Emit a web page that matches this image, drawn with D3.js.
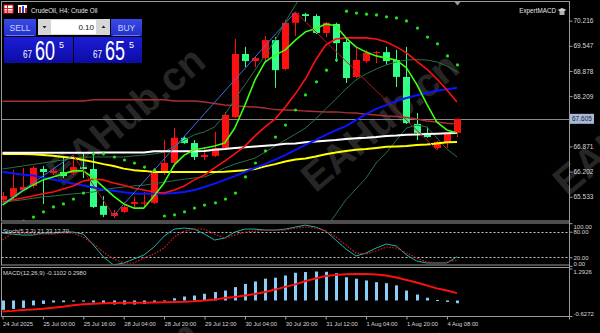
<!DOCTYPE html>
<html lang="en">
<head>
<meta charset="utf-8">
<title>CrudeOil, H4</title>
<script src="https://d3js.org/d3.v7.min.js"></script>
<style>
  body { margin: 0; background: #000; }
  svg { display: block; font-family: "Liberation Sans", Arial, sans-serif; }
  .axis path { display: none; }
  .axis line { stroke: #a0a0a0; }
  .axis text { fill: #d8d8d8; }
</style>
</head>
<body>
<script>

// ---- data (H4 bars, 24 Jul - 4 Aug 2025) ----
const opens  = [65.45,65.53,65.71,65.82,66.27,66.16,66.19,66.16,66.32,66.27,65.29,65.02,65.13,65.34,65.35,65.37,66.19,66.43,67.10,66.96,66.59,66.62,66.83,67.65,69.33,69.14,69.22,69.70,68.93,70.16,70.39,70.34,69.89,70.13,69.65,68.72,69.14,69.36,69.38,69.17,68.72,67.47,67.23,66.83,66.96,67.23];
const highs  = [65.66,66.24,66.30,66.35,66.35,66.27,66.59,66.62,66.70,66.70,65.55,65.18,65.39,65.53,65.66,66.30,67.04,67.36,67.15,67.04,66.83,67.26,67.79,69.73,69.52,69.25,69.81,69.78,70.24,70.45,70.42,70.39,70.18,70.16,69.76,69.49,69.44,69.41,69.52,69.44,69.52,67.76,67.39,67.02,67.23,67.605];
const lows   = [65.39,65.47,65.69,65.76,65.34,66.11,66.03,66.11,66.03,65.23,64.99,64.97,65.10,65.23,65.26,65.34,66.11,66.32,66.94,66.51,66.51,66.59,66.80,67.63,68.98,68.98,69.09,68.43,68.90,69.81,70.18,69.86,69.78,69.12,68.56,68.69,69.09,69.09,69.04,68.45,67.47,67.04,67.10,66.78,66.83,67.12];
const closes = [65.55,65.76,65.79,66.30,66.19,66.22,66.08,66.32,66.27,65.26,65.05,65.10,65.26,65.39,65.38,66.19,66.43,67.10,66.96,66.59,66.64,66.83,67.71,69.33,69.14,69.22,69.70,68.90,70.16,70.42,70.34,69.89,70.16,69.62,68.69,69.17,69.36,69.38,69.14,68.72,67.49,67.23,67.12,66.99,67.20,67.605];

// moving averages
const maSlow   = [68.07,68.07,68.07,68.07,68.07,68.08,68.08,68.08,68.08,68.11,68.11,68.11,68.11,68.11,68.11,68.11,68.11,68.08,68.08,68.08,68.05,68.01,67.97,67.95,67.93,67.92,67.89,67.85,67.84,67.83,67.81,67.80,67.79,67.79,67.77,67.76,67.73,67.71,67.68,67.67,67.64,67.60,67.55,67.52,67.49,67.47];
const maWhite  = [66.70,66.70,66.70,66.70,66.70,66.70,66.70,66.70,66.70,66.70,66.71,66.71,66.71,66.71,66.71,66.74,66.74,66.74,66.74,66.74,66.75,66.78,66.80,66.83,66.85,66.87,66.89,66.91,66.94,66.95,66.98,67.00,67.02,67.04,67.07,67.09,67.10,67.12,67.15,67.16,67.18,67.19,67.20,67.21,67.22,67.23];
const maYellow = [66.67,66.67,66.67,66.66,66.64,66.62,66.59,66.56,66.51,66.46,66.40,66.35,66.28,66.24,66.22,66.19,66.19,66.19,66.19,66.19,66.19,66.19,66.20,66.22,66.24,66.27,66.34,66.40,66.47,66.52,66.55,66.60,66.66,66.71,66.75,66.78,66.80,66.83,66.86,66.87,66.88,66.91,66.92,66.95,66.98,66.99];
const maBlue   = [66.19,66.16,66.12,66.10,66.04,65.99,65.94,65.88,65.83,65.78,65.72,65.69,65.65,65.62,65.61,65.61,65.61,65.63,65.66,65.71,65.79,65.88,65.98,66.08,66.19,66.30,66.40,66.52,66.64,66.78,66.91,67.04,67.18,67.30,67.41,67.57,67.73,67.87,67.97,68.08,68.16,68.23,68.29,68.35,68.39,68.43];
const maRed    = [65.39,65.45,65.50,65.55,65.61,65.66,65.74,65.82,65.95,66.00,65.98,65.90,65.84,65.76,65.71,65.66,65.63,65.71,65.82,65.98,66.11,66.30,66.48,66.67,66.88,67.15,67.39,67.60,67.92,68.27,68.67,69.17,69.57,69.73,69.76,69.76,69.76,69.73,69.65,69.52,69.36,69.14,68.93,68.67,68.37,68.05];
const maFast   = [65.31,65.50,65.69,65.84,65.98,66.06,66.14,66.22,66.22,66.03,65.79,65.55,65.34,65.23,65.23,65.55,65.90,66.38,66.64,66.78,66.83,66.88,66.96,67.36,67.97,68.64,69.12,69.30,69.44,69.70,69.92,70.00,70.13,70.08,69.76,69.52,69.38,69.28,69.22,69.17,68.96,68.53,68.00,67.52,67.31,67.23];

// bollinger bands (null where the band is off the chart)
const bbUpper = [66.27,66.31,66.35,66.39,66.43,66.47,66.51,66.56,66.58,66.59,66.59,66.59,66.59,66.62,66.64,66.67,66.72,66.88,67.04,67.18,67.26,67.39,67.71,68.13,68.51,68.90,69.30,69.70,70.18,70.63,71.03,null,null,null,null,null,null,null,null,null,null,null,null,null,null,null];
const bbMid   = [65.39,65.42,65.45,65.49,65.53,65.55,65.58,65.61,65.63,65.66,65.71,65.76,65.79,65.82,65.84,65.88,65.92,65.96,66.00,66.03,66.06,66.16,66.30,66.40,66.48,66.56,66.72,66.88,67.04,67.20,67.36,67.60,67.87,68.13,68.40,68.64,68.80,68.93,69.04,69.12,69.17,69.18,69.17,69.12,69.01,68.85];
const bbLower = [null,null,null,null,null,null,null,null,null,null,null,null,null,null,null,null,null,null,null,null,null,null,null,null,null,null,null,null,null,null,null,null,64.70,65.07,65.45,65.74,66.03,66.43,66.70,67.04,67.36,67.44,67.39,67.10,66.80,66.59];

// parabolic sar
const sar = [null,null,64.88,64.99,65.13,65.26,65.34,65.47,65.63,66.67,66.67,66.59,66.51,66.43,66.32,66.24,65.02,65.05,65.13,65.23,65.31,65.37,65.47,65.63,66.06,66.43,66.75,67.12,67.44,67.84,68.24,68.59,68.90,69.17,70.47,70.42,70.39,70.37,70.32,70.29,70.21,70.02,69.78,69.60,69.28,69.04];

// zigzag turning points [bar, price]
const zigzag = [[0, 65.34], [7, 66.64], [11, 65.03], [29, 70.45], [43, 66.78]];

// stochastic (5,3,3)
const stochK = [76.9,74.5,72.2,72.2,76.9,76.9,79.2,79.2,74.5,48.7,20.6,1.9,6.6,15.9,25.3,44.1,69.8,86.2,88.6,86.2,74.5,60.5,65.1,79.2,86.2,86.2,83.9,83.9,86.2,90.9,95.6,90.9,81.5,60.5,39.4,23.0,30.0,41.7,51.1,46.4,25.3,11.2,6.6,6.6,6.6,21.33];
const stochD = [60.5,76.9,76.9,74.5,74.5,74.5,76.9,76.9,67.5,51.1,32.3,15.9,6.6,6.6,18.3,27.7,41.7,67.5,81.5,86.2,86.2,74.5,65.1,72.2,79.2,81.5,83.9,83.9,83.9,88.6,90.9,88.6,81.5,67.5,48.7,30.0,27.7,34.7,44.1,41.7,30.0,18.3,8.9,6.6,8.9,12.70];

// macd (12,26,9)
const macdMain   = [-0.38,-0.34,-0.30,-0.20,-0.14,-0.08,-0.07,-0.04,-0.04,-0.08,-0.14,-0.16,-0.16,-0.16,-0.14,-0.08,-0.04,0.09,0.16,0.20,0.27,0.34,0.40,0.54,0.67,0.77,0.88,0.92,1.01,1.12,1.15,1.17,1.16,1.10,0.94,0.88,0.81,0.74,0.70,0.61,0.40,0.24,0.11,0.02,-0.06,-0.1102];
const macdSignal = [-0.45,-0.42,-0.38,-0.36,-0.33,-0.29,-0.25,-0.19,-0.15,-0.13,-0.11,-0.10,-0.09,-0.09,-0.09,-0.08,-0.07,-0.06,-0.05,-0.03,0.00,0.04,0.10,0.14,0.20,0.26,0.34,0.44,0.55,0.65,0.79,0.89,0.99,1.03,1.06,1.07,1.07,1.05,1.01,0.93,0.83,0.73,0.61,0.49,0.40,0.298];

// axis ticks
const priceTicks = [70.216, 69.547, 68.878, 68.209, 66.871, 66.202, 65.533];
const stochTicks = [100, 80, 20, 0];
const stochLevels = [80, 20];
const macdTicks = [1.2926, -0.6272];
const timeTickBars = [0, 4, 8, 12, 16, 20, 24, 28, 32, 36, 40, 44];
const timeTickLabels = ["24 Jul 2025", "25 Jul 00:00", "25 Jul 16:00", "28 Jul 04:00", "28 Jul 20:00", "29 Jul 12:00", "30 Jul 04:00", "30 Jul 20:00", "31 Jul 12:00", "1 Aug 04:00", "1 Aug 20:00", "4 Aug 08:00"];

// ---- layout ----
const w = 600, h = 333;
const left = 1.5, axisX = 569.5;
const mainP  = { top: 1.5, bottom: 221 };
const stochP = { top: 223, bottom: 265 };
const macdP  = { top: 267.5, bottom: 316.5 };
const font = '"Liberation Sans", Arial, sans-serif';

const svg = d3.select("body").append("svg")
  .attr("width", w)
  .attr("height", h);

svg.append("rect").attr("width", w).attr("height", h).attr("fill", "#000");

// watermark
const wm = [[128, 118], [382, 124], [634, 128], [122, 392], [376, 398]];
svg.append("g").selectAll("text")
  .data(wm)
  .join("text")
  .attr("transform", d => `translate(${d[0]},${d[1]}) rotate(-40)`)
  .attr("text-anchor", "middle")
  .attr("dominant-baseline", "middle")
  .attr("font-size", 40)
  .attr("font-weight", "bold")
  .attr("fill", "#262626")
  .text("EAHub.cn");

const idx = d3.range(closes.length);

const x = d3.scaleLinear().domain([0, 45]).range([2.5, 457]);
const yPrice = d3.scaleLinear().domain([65.533, 70.216]).range([196.7, 20.7]);
const yStoch = d3.scaleLinear().domain([0, 100]).range([265.8, 223.2]);
const yMacd  = d3.scaleLinear().domain([-0.6272, 1.2926]).range([macdP.bottom - 0.5, macdP.top + 1]);

const defs = svg.append("defs");
[["clipMain", mainP], ["clipStoch", stochP], ["clipMacd", macdP]].forEach(([id, p]) => {
  defs.append("clipPath").attr("id", id)
    .append("rect")
    .attr("x", left + 0.5).attr("y", p.top + 0.5)
    .attr("width", axisX - left - 1).attr("height", p.bottom - p.top - 1);
});

const main = svg.append("g").attr("clip-path", "url(#clipMain)");
const stoch = svg.append("g").attr("clip-path", "url(#clipStoch)");
const macd = svg.append("g").attr("clip-path", "url(#clipMacd)");

function drawLine(g, values, yScale, color, width, dash) {
  g.append("path")
    .datum(values)
    .attr("fill", "none")
    .attr("stroke", color)
    .attr("stroke-width", width)
    .attr("stroke-dasharray", dash || null)
    .attr("stroke-linejoin", "round")
    .attr("d", d3.line()
      .defined(v => v != null)
      .x((v, i) => x(i))
      .y(v => yScale(v)));
}

// current bid line
const last = closes[closes.length - 1];
main.append("line")
  .attr("x1", left).attr("x2", axisX)
  .attr("y1", Math.round(yPrice(last)) + 0.5)
  .attr("y2", Math.round(yPrice(last)) + 0.5)
  .attr("stroke", "#8a8a8a");

// candles (red = up, green = down)
const upCol = "#ff1010", downCol = "#30ff88";
const candleColor = i => closes[i] >= opens[i] ? upCol : downCol;
const cx = i => Math.round(x(i)) + 0.5;

main.append("g").selectAll("line")
  .data(idx)
  .join("line")
  .attr("x1", cx).attr("x2", cx)
  .attr("y1", i => yPrice(highs[i]))
  .attr("y2", i => yPrice(lows[i]))
  .attr("stroke", candleColor);

main.append("g").selectAll("rect")
  .data(idx)
  .join("rect")
  .attr("x", i => cx(i) - 3.5)
  .attr("width", 7)
  .attr("y", i => yPrice(Math.max(opens[i], closes[i])))
  .attr("height", i => Math.max(1, Math.abs(yPrice(opens[i]) - yPrice(closes[i]))))
  .attr("fill", candleColor);

// indicator lines
drawLine(main, maSlow, yPrice, "#a83030", 1.5);
drawLine(main, bbUpper, yPrice, "#2c7047", 1);
drawLine(main, bbMid, yPrice, "#2c7047", 1);
drawLine(main, bbLower, yPrice, "#2c7047", 1);
drawLine(main, maYellow, yPrice, "#ffff00", 2);
drawLine(main, maWhite, yPrice, "#ffffff", 2);
drawLine(main, maBlue, yPrice, "#0a14ff", 2);
drawLine(main, maRed, yPrice, "#ff1010", 1.6);
drawLine(main, maFast, yPrice, "#3cff14", 1.6);

// zigzag legs
main.append("g").selectAll("line")
  .data(d3.pairs(zigzag))
  .join("line")
  .attr("x1", d => x(d[0][0])).attr("y1", d => yPrice(d[0][1]))
  .attr("x2", d => x(d[1][0])).attr("y2", d => yPrice(d[1][1]))
  .attr("stroke", d => d[1][1] > d[0][1] ? "#3f6fd8" : "#b01818")
  .attr("stroke-width", 1);

// parabolic sar
main.append("g").selectAll("circle")
  .data(idx.filter(i => sar[i] != null))
  .join("circle")
  .attr("cx", cx)
  .attr("cy", i => yPrice(sar[i]))
  .attr("r", 1.6)
  .attr("fill", "#1fe51f");

// ---- stochastic ----
stoch.append("g").selectAll("line")
  .data(stochLevels)
  .join("line")
  .attr("x1", left).attr("x2", axisX)
  .attr("y1", d => Math.round(yStoch(d)) + 0.5)
  .attr("y2", d => Math.round(yStoch(d)) + 0.5)
  .attr("stroke", "#c8c8c8")
  .attr("stroke-dasharray", "2,2");
drawLine(stoch, stochK, yStoch, "#20b2aa", 1);
drawLine(stoch, stochD, yStoch, "#e01818", 1.2, "1.5,1.5");

// ---- macd ----
macd.append("g").selectAll("rect")
  .data(idx)
  .join("rect")
  .attr("x", i => cx(i) - 1.5)
  .attr("width", 3)
  .attr("y", i => Math.min(yMacd(0), yMacd(macdMain[i])))
  .attr("height", i => Math.max(1, Math.abs(yMacd(macdMain[i]) - yMacd(0))))
  .attr("fill", "#87cefa");
drawLine(macd, macdSignal, yMacd, "#ff1010", 2);

// ---- frames ----
const frame = svg.append("g").attr("fill", "none").attr("stroke", "#9a9a9a");
[mainP, stochP, macdP].forEach(p => {
  frame.append("rect")
    .attr("x", left).attr("y", p.top)
    .attr("width", axisX - left).attr("height", p.bottom - p.top);
});
frame.append("line").attr("x1", axisX).attr("x2", axisX).attr("y1", mainP.top).attr("y2", macdP.bottom + 3);

// ---- axes (font set after call, the axis overrides it) ----
function styleAxis(g, size) {
  g.attr("font-size", size).attr("font-family", font);
}

svg.append("g")
  .attr("class", "axis")
  .attr("transform", `translate(${axisX},0)`)
  .call(d3.axisRight(yPrice).tickValues(priceTicks).tickSize(3).tickPadding(1).tickFormat(d => d.toFixed(3)))
  .call(styleAxis, 6.5);

// current price tag
svg.append("rect")
  .attr("x", axisX + 0.5).attr("y", yPrice(last) - 5)
  .attr("width", 24).attr("height", 10)
  .attr("fill", "#a9b9d3");
svg.append("text")
  .attr("x", axisX + 2.5).attr("y", yPrice(last))
  .attr("dy", "0.35em")
  .attr("font-size", 6.5)
  .attr("fill", "#14224a")
  .text(last.toFixed(3));

svg.append("g")
  .attr("class", "axis")
  .attr("transform", `translate(${axisX},0)`)
  .call(d3.axisRight(yStoch).tickValues(stochTicks).tickSize(3).tickPadding(1).tickFormat(d => d.toFixed(2)))
  .call(styleAxis, 6)
  .selectAll("text")
  .attr("dy", d => d === 100 ? "0.8em" : d === 0 ? "-0.1em" : "0.32em");

svg.append("g")
  .attr("class", "axis")
  .attr("transform", `translate(${axisX},0)`)
  .call(d3.axisRight(yMacd).tickValues(macdTicks).tickSize(3).tickPadding(1).tickFormat(d => d.toFixed(4)))
  .call(styleAxis, 6)
  .selectAll("text")
  .attr("dy", d => d > 0 ? "0.75em" : "-0.1em");

svg.append("g")
  .attr("class", "axis")
  .attr("transform", `translate(0,${macdP.bottom})`)
  .call(d3.axisBottom(x).tickValues(timeTickBars).tickSize(3).tickPadding(2)
    .tickFormat((d, i) => timeTickLabels[i]))
  .call(styleAxis, 5.8)
  .selectAll("text")
  .attr("text-anchor", "start")
  .attr("x", 0);

// ---- indicator captions ----
svg.append("text")
  .attr("x", 3).attr("y", 232.5)
  .attr("font-size", 6)
  .attr("fill", "#d8d8d8")
  .text(`Stoch(5,3,3) ${stochK[stochK.length - 1].toFixed(2)} ${stochD[stochD.length - 1].toFixed(2)}`);

svg.append("text")
  .attr("x", 3).attr("y", 274.5)
  .attr("font-size", 6)
  .attr("fill", "#d8d8d8")
  .text(`MACD(12,26,9) ${macdMain[macdMain.length - 1].toFixed(4)} ${macdSignal[macdSignal.length - 1].toFixed(4)}`);

// ---- header ----
const head = svg.append("g");
head.append("rect").attr("x", 4).attr("y", 5).attr("width", 9).attr("height", 8).attr("fill", "#fff").attr("stroke", "#e02020");
head.append("path").attr("d", "M4,8.5H13M4,11H13M7.5,5V13").attr("stroke", "#e02020").attr("stroke-width", 1);
head.append("rect").attr("x", 18).attr("y", 5).attr("width", 9).attr("height", 8).attr("fill", "#fff");
head.append("rect").attr("x", 19).attr("y", 7).attr("width", 2).attr("height", 6).attr("fill", "#d02020");
head.append("rect").attr("x", 22).attr("y", 6).attr("width", 2).attr("height", 7).attr("fill", "#2040c0");
head.append("rect").attr("x", 25).attr("y", 8).attr("width", 2).attr("height", 5).attr("fill", "#d02020");
head.append("text").attr("x", 31).attr("y", 12.5).attr("font-size", 6.3).attr("fill", "#e6e6e6")
  .text("CrudeOil, H4:  Crude Oil");

head.append("text").attr("x", 556).attr("y", 12.5).attr("font-size", 6.3).attr("fill", "#e6e6e6")
  .attr("text-anchor", "end").text("ExpertMACD");
head.append("path").attr("d", "M557.5,10L562,8L566.5,10L562,12Z").attr("fill", "#d0d0d0");
head.append("rect").attr("x", 559.5).attr("y", 11).attr("width", 5).attr("height", 4).attr("fill", "#b0b0b0");

// shift marker
svg.append("path").attr("d", "M454.5,2L460.5,2L457.5,5.5Z").attr("fill", "#9a9a9a");

// one-click trading panel
const grad = defs.append("linearGradient").attr("id", "btn").attr("x1", 0).attr("x2", 0).attr("y1", 0).attr("y2", 1);
grad.append("stop").attr("offset", 0).attr("stop-color", "#3a4ae6");
grad.append("stop").attr("offset", 1).attr("stop-color", "#2230c8");
const grad2 = defs.append("linearGradient").attr("id", "big").attr("x1", 0).attr("x2", 0).attr("y1", 0).attr("y2", 1);
grad2.append("stop").attr("offset", 0).attr("stop-color", "#1c1cd6");
grad2.append("stop").attr("offset", 1).attr("stop-color", "#0c0ca4");

head.append("rect").attr("x", 4).attr("y", 19).attr("width", 32).attr("height", 17).attr("fill", "url(#btn)");
head.append("rect").attr("x", 111).attr("y", 19).attr("width", 31).attr("height", 17).attr("fill", "url(#btn)");
head.append("line").attr("x1", 6).attr("x2", 34).attr("y1", 35.5).attr("y2", 35.5).attr("stroke", "#6a78f0");
head.append("line").attr("x1", 113).attr("x2", 140).attr("y1", 35.5).attr("y2", 35.5).attr("stroke", "#6a78f0");
head.append("text").attr("x", 20).attr("y", 31).attr("text-anchor", "middle").attr("font-size", 8.5).attr("fill", "#c8d2ff").text("SELL");
head.append("text").attr("x", 126.5).attr("y", 31).attr("text-anchor", "middle").attr("font-size", 8.5).attr("fill", "#c8d2ff").text("BUY");

head.append("rect").attr("x", 38).attr("y", 19).attr("width", 72).attr("height", 16).attr("fill", "#d6d6d6");
head.append("rect").attr("x", 51).attr("y", 20).attr("width", 45).attr("height", 14).attr("fill", "#ffffff");
head.append("path").attr("d", "M42.5,26L46.5,26L44.5,28.5Z").attr("fill", "#202020");
head.append("path").attr("d", "M101.5,28L105.5,28L103.5,25.5Z").attr("fill", "#202020");
head.append("text").attr("x", 94).attr("y", 30).attr("text-anchor", "end").attr("font-size", 8).attr("fill", "#101010").text("0.10");

head.append("rect").attr("x", 4).attr("y", 37).attr("width", 69).attr("height", 26).attr("fill", "url(#big)");
head.append("rect").attr("x", 74).attr("y", 37).attr("width", 68).attr("height", 26).attr("fill", "url(#big)");
[[23, "67", "60", "5"], [93, "67", "65", "5"]].forEach(([bx, a, b, c]) => {
  head.append("text").attr("x", bx).attr("y", 58).attr("font-size", 10).attr("fill", "#fff")
    .attr("textLength", 9).attr("lengthAdjust", "spacingAndGlyphs").text(a);
  head.append("text").attr("x", bx + 12).attr("y", 60).attr("font-size", 27).attr("fill", "#fff")
    .attr("textLength", 20).attr("lengthAdjust", "spacingAndGlyphs").text(b);
  head.append("text").attr("x", bx + 36).attr("y", 48).attr("font-size", 9).attr("fill", "#fff").text(c);
});

</script>
</body>
</html>
